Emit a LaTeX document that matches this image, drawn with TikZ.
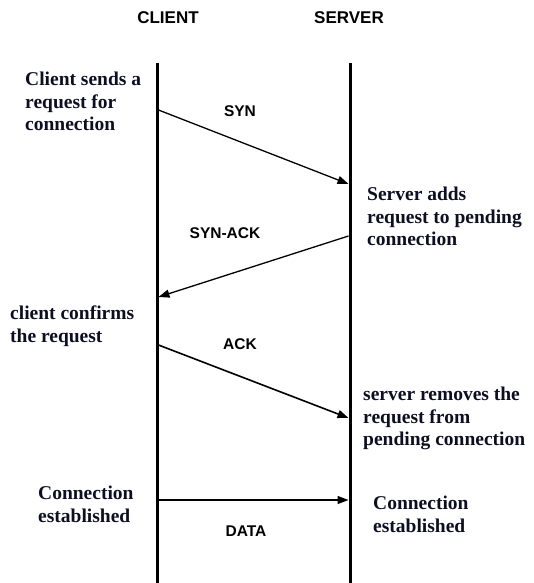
\documentclass[tikz,border=0pt]{standalone}
\usepackage{fontspec}
\setmainfont{Liberation Serif}
\setsansfont{Liberation Sans}
\usetikzlibrary{arrows.meta}
\definecolor{notecol}{RGB}{14,14,34}

\begin{document}
\begin{tikzpicture}[x=1pt, y=-1pt,
    head/.style = {font=\sffamily\bfseries\fontsize{17}{20}\selectfont},
    msg/.style = {font=\sffamily\bfseries\fontsize{15.5}{18}\selectfont},
    note/.style = {anchor=north west, align=left, inner sep=0pt, text=notecol,
                font=\rmfamily\bfseries\fontsize{19.5}{22.5}\selectfont},
    life/.style = {black, line width=3pt},
    sig/.style = {black, line width=1.3pt, -{Triangle[length=11pt,width=8pt]}}
                    ]
    \useasboundingbox (0,0) rectangle (534,583);
    \def\cx{157}   % client line
    \def\sx{350}   % server line
    \def\ce{158.5} % client edge
    \def\se{348.5} % server edge
    % life lines
    \coordinate (ctop) at (\cx,63);
    \coordinate (cbot) at (\cx,583);
    \coordinate (stop) at (\sx,63);
    \coordinate (sbot) at (\sx,583);
    \draw [life] (ctop) -- (cbot);
    \draw [life] (stop) -- (sbot);
    \node[head] (client) at (168,18) {CLIENT};
    \node[head] (server) at (349,18) {SERVER};
    % messages
    \coordinate (syna) at (\ce,110);
    \coordinate (synb) at (\se,184);
    \coordinate (acka) at (\se,236);
    \coordinate (ackb) at (\ce,297);
    \coordinate (ca) at (\ce,345);
    \coordinate (cb) at (\se,418);
    \coordinate (da) at (\ce,500);
    \coordinate (db) at (\se,500);
    \draw [sig] (syna) -- (synb);
    \draw [sig] (acka) -- (ackb);
    \draw [sig, line width=1.6pt] (ca) -- (cb);
    \draw [sig] (da) -- (db);
    \node[msg] (syn) at (240,111) {SYN};
    \node[msg] (synack) at (225,233) {SYN-ACK};
    \node[msg] (ack) at (240,344) {ACK};
    \node[msg] (data) at (246,531) {DATA};
    % notes
    \node[note] (n1) at (25,72) {Client sends a\\request for\\connection};
    \node[note] (n2) at (367,187) {Server adds\\request to pending\\connection};
    \node[note] (n3) at (10,306) {client confirms\\the request};
    \node[note] (n4) at (363,387) {server removes the\\request from\\pending connection};
    \node[note] (n5) at (38,486) {Connection\\established};
    \node[note] (n6) at (373,496) {Connection\\established};
\end{tikzpicture}
\end{document}
